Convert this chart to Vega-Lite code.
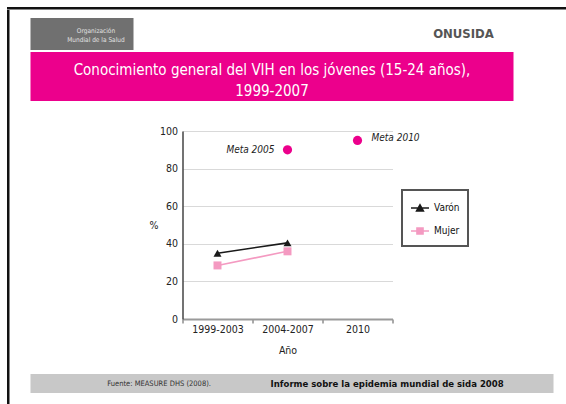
{
  "$schema": "https://vega.github.io/schema/vega-lite/v6.json",
  "padding": {"left": 7, "top": 7, "right": 0, "bottom": 0},
  "background": "white",
  "spacing": 0,
  "config": {
    "view": {"stroke": null},
    "font": "DejaVu Sans Condensed, Liberation Sans Narrow, sans-serif"
  },
  "vconcat": [
    {
      "width": 559, "height": 2.5,
      "view": {"fill": "#111111", "stroke": null},
      "data": {"values": []},
      "mark": "text"
    },
    {
      "spacing": 20.5,
      "hconcat": [
        {
          "width": 2.5, "height": 400,
          "view": {"fill": "#111111", "stroke": null},
          "data": {"values": []},
          "mark": "text"
        },
        {
          "spacing": 0,
          "vconcat": [
            {"width": 1, "height": 8, "data": {"values": []}, "mark": "text"},
            {
              "spacing": 290,
              "hconcat": [
                {
                  "width": 103, "height": 32,
                  "view": {"fill": "#707070", "stroke": null},
                  "data": {"values": [{"logo": "Organización\nMundial de la Salud"}]},
                  "mark": {"type": "text", "lineBreak": "\n", "fontSize": 6.5, "color": "#e0e0e0", "dx": 14, "dy": -3},
                  "encoding": {"text": {"field": "logo"}}
                },
                {
                  "width": 80, "height": 32,
                  "data": {"values": [{"logo": "ONUSIDA"}]},
                  "mark": {"type": "text", "fontSize": 13, "fontWeight": "bold", "color": "#555555"},
                  "encoding": {"text": {"field": "logo"}}
                }
              ]
            },
            {"width": 1, "height": 2, "data": {"values": []}, "mark": "text"},
            {
              "width": 483, "height": 49,
              "view": {"fill": "#EC008C", "stroke": null},
              "data": {"values": [{"titulo": "Conocimiento general del VIH en los jóvenes (15-24 años),\n1999-2007"}]},
              "mark": {"type": "text", "lineBreak": "\n", "fontSize": 15, "lineHeight": 21, "color": "white", "dy": -7},
              "encoding": {"text": {"field": "titulo"}}
            },
            {"width": 1, "height": 25, "data": {"values": []}, "mark": "text"},
            {
              "spacing": 0,
              "hconcat": [
                {"width": 118, "height": 1, "data": {"values": []}, "mark": "text"},
                {
                  "width": 210, "height": 188,
                  "data": {"values": [
                    {"serie": "Varón", "periodo": "1999-2003", "valor": 35},
                    {"serie": "Varón", "periodo": "2004-2007", "valor": 40.5},
                    {"serie": "Mujer", "periodo": "1999-2003", "valor": 28.5},
                    {"serie": "Mujer", "periodo": "2004-2007", "valor": 36},
                    {"serie": "Meta", "periodo": "2004-2007", "valor": 90, "etiqueta": "Meta 2005"},
                    {"serie": "Meta", "periodo": "2010", "valor": 95, "etiqueta": "Meta 2010"}
                  ]},
                  "encoding": {
                    "x": {
                      "field": "periodo", "type": "nominal", "title": "Año",
                      "scale": {"domain": ["1999-2003", "2004-2007", "2010"], "paddingInner": 0, "paddingOuter": 0},
                      "axis": {
                        "labelAngle": 0, "labelFontSize": 10.5, "labelColor": "#222222", "labelPadding": 1,
                        "tickSize": 4, "tickColor": "#555555", "tickBand": "extent",
                        "domainColor": "#9a9a9a", "domainWidth": 2,
                        "titleFontSize": 10.5, "titleFontWeight": "normal", "titleColor": "#222222", "titlePadding": 11,
                        "grid": false
                      }
                    },
                    "y": {
                      "field": "valor", "type": "quantitative", "title": "%",
                      "scale": {"domain": [0, 100]},
                      "axis": {
                        "values": [0, 20, 40, 60, 80, 100],
                        "labelFontSize": 10.5, "labelColor": "#222222", "labelPadding": 5,
                        "ticks": false, "domainColor": "#444444", "domainWidth": 1.5,
                        "gridColor": "#d9d9d9", "gridWidth": 1,
                        "titleAngle": 0, "titleFontSize": 10.5, "titleFontWeight": "normal", "titleColor": "#222222",
                        "titleBaseline": "middle", "titlePadding": 6
                      }
                    },
                    "color": {
                      "field": "serie", "type": "nominal",
                      "scale": {"domain": ["Varón", "Mujer"], "range": ["#1a1a1a", "#F49AC1"]},
                      "legend": {
                        "title": null, "orient": "none", "legendX": 395, "legendY": 183,
                        "strokeColor": "#555555", "padding": 8, "rowPadding": 7,
                        "labelFontSize": 10, "labelColor": "#111111", "labelOffset": 4,
                        "symbolSize": 324, "symbolStrokeWidth": 1.5,
                        "labelExpr": "datum.label + '    '",
                        "encode": {
                          "legend": {"update": {"strokeWidth": {"value": 2}}},
                          "symbols": {"update": {
                            "shape": {"signal": "datum.value === 'Varón' ? 'M-1,0H1M-0.38,0.32L0,-0.36L0.38,0.32Z' : 'M-1,0H1M-0.34,-0.34H0.34V0.34H-0.34Z'"},
                            "fill": {"scale": "color", "field": "value"},
                            "stroke": {"scale": "color", "field": "value"},
                            "strokeWidth": {"value": 1.5},
                            "opacity": {"value": 1}
                          }}
                        }
                      }
                    }
                  },
                  "layer": [
                    {
                      "transform": [{"filter": "datum.serie !== 'Meta'"}],
                      "mark": {"type": "line", "strokeWidth": 1.6}
                    },
                    {
                      "transform": [{"filter": "datum.serie === 'Varón'"}],
                      "mark": {"type": "point", "filled": true, "opacity": 1, "size": 64, "shape": "triangle-up"}
                    },
                    {
                      "transform": [{"filter": "datum.serie === 'Mujer'"}],
                      "mark": {"type": "point", "filled": true, "opacity": 1, "size": 64, "shape": "square"}
                    },
                    {
                      "transform": [{"filter": "datum.serie === 'Meta'"}],
                      "mark": {"type": "circle", "size": 85, "opacity": 1},
                      "encoding": {"color": {"value": "#EC008C"}}
                    },
                    {
                      "transform": [{"filter": "datum.etiqueta === 'Meta 2005'"}],
                      "mark": {"type": "text", "align": "right", "dx": -13, "fontSize": 10, "fontStyle": "italic"},
                      "encoding": {"text": {"field": "etiqueta"}, "color": {"value": "#222222"}}
                    },
                    {
                      "transform": [{"filter": "datum.etiqueta === 'Meta 2010'"}],
                      "mark": {"type": "text", "align": "left", "dx": 14, "dy": -2, "fontSize": 10, "fontStyle": "italic"},
                      "encoding": {"text": {"field": "etiqueta"}, "color": {"value": "#222222"}}
                    }
                  ]
                }
              ]
            },
            {"width": 1, "height": 18, "data": {"values": []}, "mark": "text"},
            {
              "width": 523, "height": 19,
              "view": {"fill": "#c8c8c8", "stroke": null},
              "data": {"values": [
                {"clave": "fuente", "texto": "Fuente: MEASURE DHS (2008)."},
                {"clave": "informe", "texto": "Informe sobre la epidemia mundial de sida 2008"}
              ]},
              "encoding": {
                "x": {"field": "clave", "type": "nominal", "axis": null,
                      "scale": {"type": "point", "domain": ["fuente", "informe"], "padding": 0.647, "align": 0.436}},
                "text": {"field": "texto"}
              },
              "layer": [
                {
                  "transform": [{"filter": "datum.clave === 'fuente'"}],
                  "mark": {"type": "text", "fontSize": 7.5, "color": "#333333"}
                },
                {
                  "transform": [{"filter": "datum.clave === 'informe'"}],
                  "mark": {"type": "text", "fontSize": 9.5, "fontWeight": "bold", "color": "#111111"}
                }
              ]
            }
          ]
        }
      ]
    }
  ]
}
